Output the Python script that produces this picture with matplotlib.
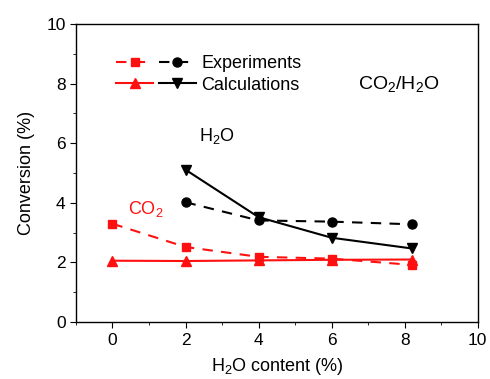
import matplotlib
matplotlib.use("Agg")
import matplotlib.pyplot as plt
from matplotlib.legend_handler import HandlerTuple
from matplotlib.ticker import MultipleLocator

plt.rcParams['font.family'] = ['Liberation Sans', 'DejaVu Sans']
plt.rcParams['mathtext.fontset'] = 'custom'
plt.rcParams['mathtext.rm'] = 'Liberation Sans'
plt.rcParams['mathtext.it'] = 'Liberation Sans'

# water content (%)
h2o_content = [0, 2, 4, 6, 8.2]
h2o_content_h2o = [2, 4, 6, 8.2]

# CO2 conversion
co2_exp = [3.3, 2.52, 2.19, 2.13, 1.92]
co2_calc = [2.06, 2.05, 2.07, 2.09, 2.1]

# H2O conversion
h2o_exp = [4.02, 3.41, 3.37, 3.28]
h2o_calc = [5.11, 3.52, 2.83, 2.47]

red = '#ff1010'

fig, ax = plt.subplots(figsize=(4.9, 3.79), dpi=100)
fig.subplots_adjust(left=0.155, right=0.975, top=0.937, bottom=0.15)

l1, = ax.plot(h2o_content, co2_exp, '--', color=red, marker='s', ms=6, lw=1.5, dashes=(5, 4))
l2, = ax.plot(h2o_content, co2_calc, '-', color=red, marker='^', ms=6.5, lw=1.5)
l3, = ax.plot(h2o_content_h2o, h2o_exp, '--', color='black', marker='o', ms=6.5, lw=1.5, dashes=(5, 4))
l4, = ax.plot(h2o_content_h2o, h2o_calc, '-', color='black', marker='v', ms=6.5, lw=1.5)

ax.legend([(l1, l3), (l2, l4)], ['Experiments', 'Calculations'],
          handler_map={tuple: HandlerTuple(ndivide=None, pad=0.3)},
          handlelength=4.4, frameon=False, fontsize=13, loc='upper left',
          bbox_to_anchor=(0.06, 0.95), handletextpad=0.3, labelspacing=0.25)

ax.text(7.85, 8.0, 'CO$_2$/H$_2$O', fontsize=14, ha='center', va='center')
ax.text(2.85, 6.25, 'H$_2$O', fontsize=13, ha='center', va='center')
ax.text(0.9, 3.8, 'CO$_2$', fontsize=13, ha='center', va='center', color=red)

ax.set_xlim(-1, 10)
ax.set_ylim(0, 10)
ax.xaxis.set_major_locator(MultipleLocator(2))
ax.xaxis.set_minor_locator(MultipleLocator(1))
ax.yaxis.set_major_locator(MultipleLocator(2))
ax.yaxis.set_minor_locator(MultipleLocator(1))
ax.tick_params(which='both', direction='out', top=False, right=False, labelsize=12.5)
ax.tick_params(which='major', length=4)
ax.tick_params(which='minor', length=2.5)
for s in ax.spines.values():
    s.set_linewidth(1.0)

ax.set_xlabel('H$_2$O content (%)', fontsize=13, labelpad=6)
ax.set_ylabel('Conversion (%)', fontsize=13, labelpad=8)

fig.savefig('out.png')
